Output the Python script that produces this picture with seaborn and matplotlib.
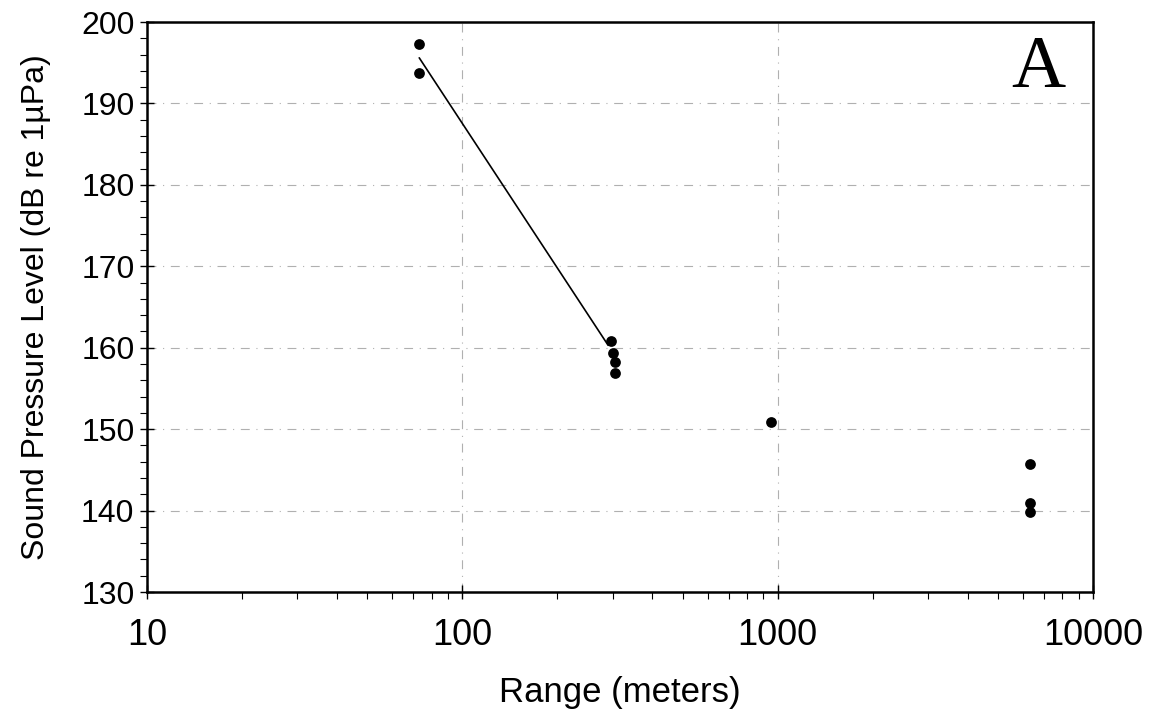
import numpy as np
import pandas as pd
import seaborn as sns
import matplotlib.pyplot as plt
from matplotlib.ticker import MultipleLocator, LogLocator, NullFormatter, FixedLocator

# measured points
range_m = [73, 73, 297, 301, 305, 304, 953, 6310, 6310, 6310]
spl_db = [197.3, 193.7, 160.8, 159.3, 158.2, 156.9, 150.9, 145.7, 140.9, 139.8]

# fitted line (near field)
fit_range = [73, 290]
fit_spl = [195.6, 160.3]

pts = pd.DataFrame({"range": range_m, "spl": spl_db})
fit = pd.DataFrame({"range": fit_range, "spl": fit_spl})

sns.set_style("white")
plt.rcParams["font.family"] = ["Liberation Sans", "DejaVu Sans"]
plt.rcParams["text.color"] = "black"
plt.rcParams["axes.labelcolor"] = "black"

fig = plt.figure(figsize=(11.52, 7.19), dpi=100)
ax = fig.add_axes([0.1276, 0.1766, 0.8212, 0.7928])

sns.lineplot(data=fit, x="range", y="spl", ax=ax, color="black", linewidth=1.2)
sns.scatterplot(data=pts, x="range", y="spl", ax=ax, color="black", s=60,
                edgecolor="black", linewidth=0, zorder=3)

ax.set_xscale("log")
ax.set_xlim(10, 10000)
ax.set_ylim(130, 200)
ax.yaxis.set_major_locator(MultipleLocator(10))
ax.yaxis.set_minor_locator(MultipleLocator(2))
ax.xaxis.set_major_locator(FixedLocator([10, 100, 1000, 10000]))
ax.xaxis.set_minor_locator(LogLocator(base=10, subs=np.arange(2, 10)))
ax.xaxis.set_minor_formatter(NullFormatter())
ax.set_xticklabels(["10", "100", "1000", "10000"])

ax.grid(True, which="major", color="#b0b0b0", linewidth=0.8,
        linestyle=(0, (8, 6, 1, 6)))

for s in ax.spines.values():
    s.set_visible(True)
    s.set_color("black")
    s.set_linewidth(1.8)

ax.tick_params(axis="both", which="both", bottom=True, left=True,
               top=False, right=False)
ax.tick_params(axis="both", which="major", direction="inout", length=10,
               width=1, colors="black")
ax.tick_params(axis="both", which="minor", direction="out", length=5,
               width=0.8, colors="black")
ax.tick_params(axis="x", which="major", labelsize=26, pad=14)
ax.tick_params(axis="y", which="major", labelsize=23, pad=4)

ax.set_xlabel("Range (meters)", fontsize=25, labelpad=16)
ax.set_ylabel("Sound Pressure Level (dB re 1\u00b5Pa)", fontsize=23, labelpad=22)

ax.text(0.942, 0.886, "A", transform=ax.transAxes, ha="center", va="baseline",
        fontsize=54, color="black", family=["Liberation Serif", "DejaVu Serif"])

fig.savefig("out.png", dpi=100)
